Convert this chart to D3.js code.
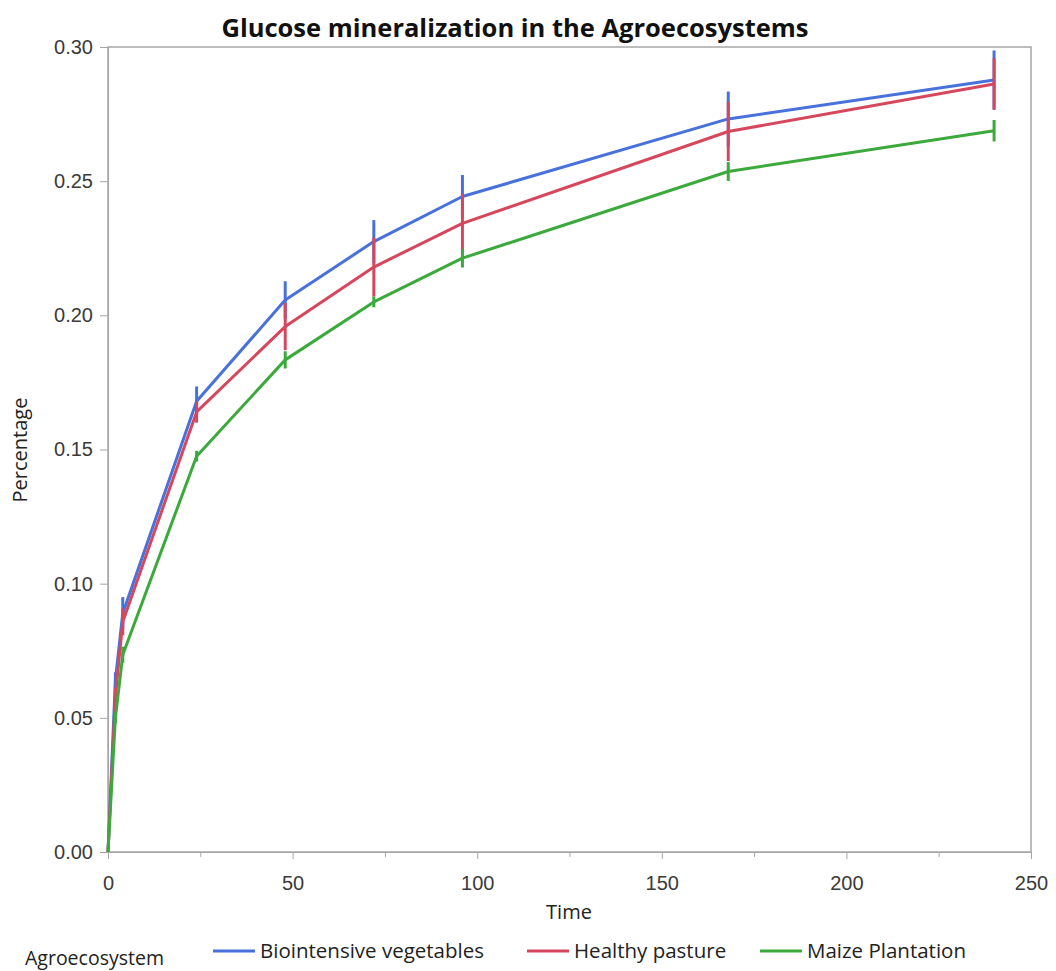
<!DOCTYPE html>
<html>
<head>
<meta charset="utf-8">
<script src="https://cdn.jsdelivr.net/npm/d3@7"></script>
<style>
  html, body { margin: 0; padding: 0; background: #fff; }
  svg { display: block; font-family: "Open Sans", "Noto Sans", sans-serif; }
</style>
</head>
<body>
<svg id="chart" width="1056" height="971"></svg>
<script>
// Sampling times (hours) and mean mineralized fraction per agroecosystem
const times = [0, 2, 4, 24, 48, 72, 96, 168, 240];
const biointensive = [0, 0.064, 0.089, 0.168, 0.2057, 0.2275, 0.2443, 0.2732, 0.2877];
const pasture      = [0, 0.058, 0.0858, 0.164, 0.1958, 0.218, 0.2343, 0.2685, 0.2862];
const maize        = [0, 0.050, 0.0735, 0.1475, 0.1834, 0.205, 0.2213, 0.2536, 0.2688];

// Half-width of the error bar at each sampling time
const biointensiveErr = [0, 0.003, 0.006, 0.0055, 0.007, 0.008, 0.008, 0.0102, 0.011];
const pastureErr      = [0, 0.003, 0.005, 0.004, 0.0088, 0.011, 0.011, 0.011, 0.0096];
const maizeErr        = [0, 0.002, 0.003, 0.002, 0.0032, 0.002, 0.0035, 0.0035, 0.004];

const seriesNames = ["Biointensive vegetables", "Healthy pasture", "Maize Plantation"];
const seriesColors = ["#4871db", "#d6475e", "#3ba93b"];
const xTicks = [0, 50, 100, 150, 200, 250];
const xMinorTicks = [25, 75, 125, 175, 225];
const yTicks = [0, 0.05, 0.10, 0.15, 0.20, 0.25, 0.30];

const series = [
  { name: seriesNames[0], color: seriesColors[0], values: biointensive, err: biointensiveErr },
  { name: seriesNames[1], color: seriesColors[1], values: pasture, err: pastureErr },
  { name: seriesNames[2], color: seriesColors[2], values: maize, err: maizeErr }
];

const svg = d3.select("#chart");
const plot = { left: 108, right: 1031, top: 47, bottom: 852 };

const x = d3.scaleLinear().domain([0, 250]).range([plot.left, plot.right]);
const y = d3.scaleLinear().domain([0, 0.30]).range([plot.bottom, plot.top]);

const axisColor = "#a6a6a6";
const textColor = "#3a3a3a";

// Title
svg.append("text")
  .attr("x", 515).attr("y", 37)
  .attr("text-anchor", "middle")
  .attr("font-size", 25.5).attr("font-weight", "bold")
  .attr("fill", "#111")
  .text("Glucose mineralization in the Agroecosystems");

// Axes
svg.append("g")
  .attr("transform", `translate(0,${plot.bottom})`)
  .call(d3.axisBottom(x).tickValues(xTicks).tickSize(7).tickPadding(17).tickFormat(d3.format("d")));
svg.append("g")
  .attr("transform", `translate(0,${plot.bottom})`)
  .call(d3.axisBottom(x).tickValues(xMinorTicks).tickSize(5).tickFormat(""))
  .call(g => g.select(".domain").remove());
svg.append("g")
  .attr("transform", `translate(${plot.left},0)`)
  .call(d3.axisLeft(y).tickValues(yTicks).tickSize(8).tickPadding(7).tickFormat(d3.format(".2f")));

svg.selectAll(".tick line").attr("stroke", axisColor);
svg.selectAll(".domain").attr("stroke", axisColor);
svg.selectAll(".tick text").attr("fill", textColor).attr("font-size", 20);

// Plot frame
svg.append("rect")
  .attr("x", plot.left).attr("y", plot.top)
  .attr("width", plot.right - plot.left).attr("height", plot.bottom - plot.top)
  .attr("fill", "none").attr("stroke", axisColor).attr("stroke-width", 1.5);

// Axis titles
svg.append("text")
  .attr("x", 569).attr("y", 919)
  .attr("text-anchor", "middle").attr("font-size", 20).attr("fill", "#222")
  .text("Time");
svg.append("text")
  .attr("transform", `translate(27,450) rotate(-90)`)
  .attr("text-anchor", "middle").attr("font-size", 20).attr("fill", "#222")
  .text("Percentage");

// Series: error bars then the mean line
const line = d3.line().x((d, i) => x(times[i])).y(d => y(d));
series.forEach(s => {
  const g = svg.append("g");
  g.selectAll("line.err")
    .data(s.values)
    .join("line")
    .attr("class", "err")
    .attr("x1", (d, i) => x(times[i])).attr("x2", (d, i) => x(times[i]))
    .attr("y1", (d, i) => y(d + s.err[i])).attr("y2", (d, i) => y(d - s.err[i]))
    .attr("stroke", s.color).attr("stroke-width", 3);
  g.append("path")
    .datum(s.values)
    .attr("d", line)
    .attr("fill", "none").attr("stroke", s.color)
    .attr("stroke-width", 3).attr("stroke-linejoin", "round");
});

// Legend
svg.append("text")
  .attr("x", 25).attr("y", 965)
  .attr("font-size", 19.5).attr("fill", "#222")
  .text("Agroecosystem");
const legendX = [213, 527, 760];
series.forEach((s, i) => {
  svg.append("line")
    .attr("x1", legendX[i]).attr("x2", legendX[i] + 42)
    .attr("y1", 951).attr("y2", 951)
    .attr("stroke", s.color).attr("stroke-width", 3);
  svg.append("text")
    .attr("x", legendX[i] + 47).attr("y", 958)
    .attr("font-size", 20.5).attr("fill", "#222")
    .text(s.name);
});
</script>
</body>
</html>
